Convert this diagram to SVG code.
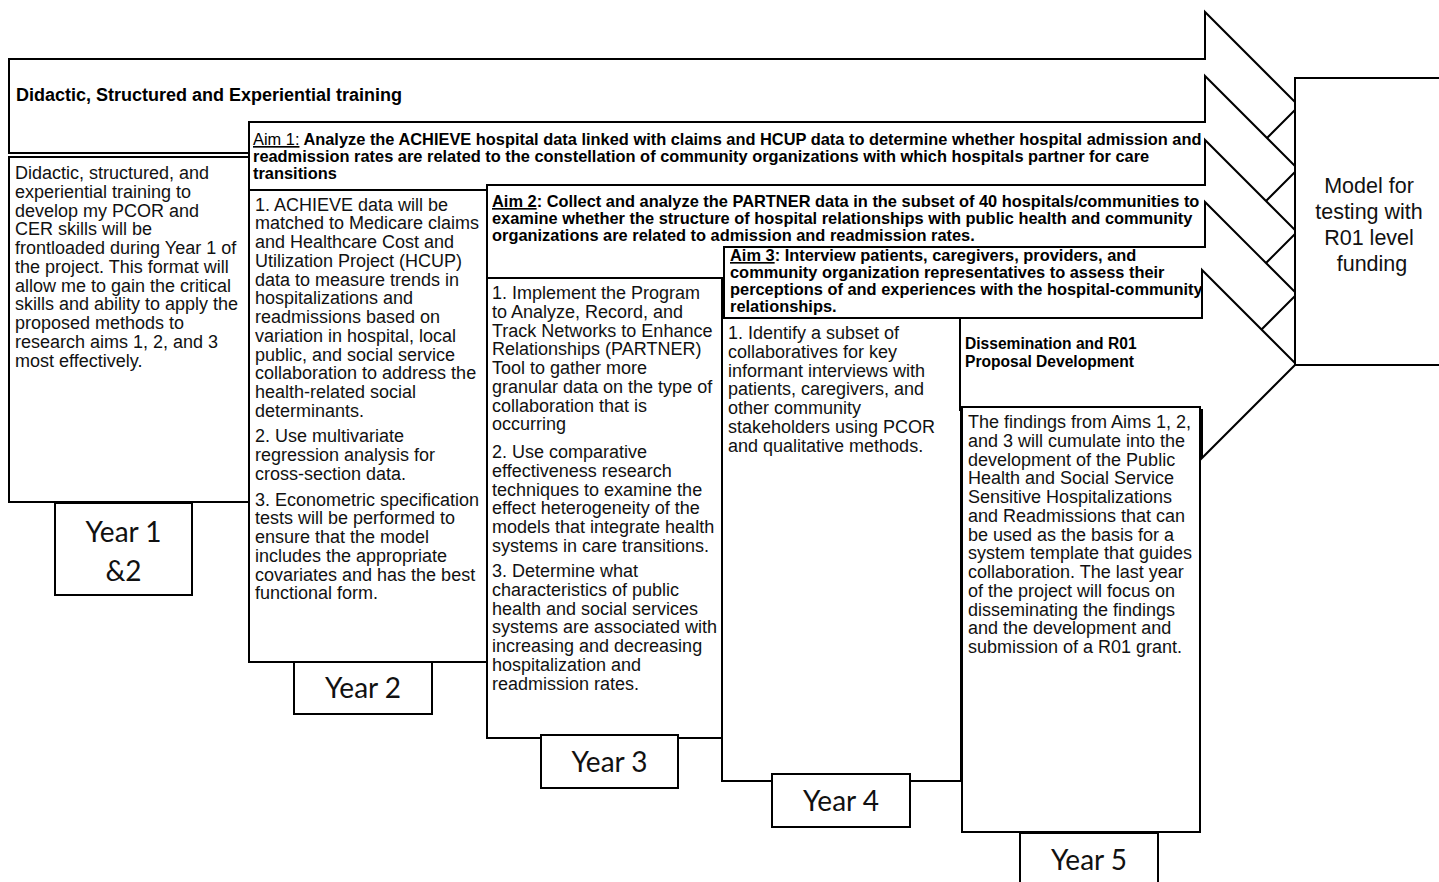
<svg xmlns="http://www.w3.org/2000/svg" width="1439" height="882" viewBox="0 0 1439 882">
<style>
.bg{fill:#fff}
.shape{fill:#fff;stroke:#000;stroke-width:2;stroke-linejoin:miter}
.body{font-family:"Liberation Sans",Arial,sans-serif;font-size:18px;fill:#111}
.hdr{font-family:"Liberation Sans",Arial,sans-serif;font-size:16.4px;font-weight:bold;fill:#000}
.hdr18{font-family:"Liberation Sans",Arial,sans-serif;font-size:18px;font-weight:bold;fill:#000}
.hdr16{font-family:"Liberation Sans",Arial,sans-serif;font-size:15.6px;font-weight:bold;fill:#000}
.year{font-family:Lato,"Open Sans",sans-serif;font-size:28px;fill:#111;text-anchor:middle}
.model{font-family:"Liberation Sans",Arial,sans-serif;font-size:21.5px;fill:#111;text-anchor:middle}
.u{text-decoration:underline}
.n{font-weight:normal}
</style>
<rect class="bg" x="0" y="0" width="1439" height="882"/>

<g id="stage1">
<polygon class="shape" points="9,59 1205,59 1205,12 1299,106 1205,200 1205,153 9,153"/>
<text class="hdr18" x="16" y="101">Didactic, Structured and Experiential training</text>
<rect class="shape" x="9" y="157" width="240" height="345"/>
<text class="body" x="15">
<tspan x="15" y="179">Didactic, structured, and</tspan>
<tspan x="15" y="197.8">experiential training to</tspan>
<tspan x="15" y="216.5">develop my PCOR and</tspan>
<tspan x="15" y="235.3">CER skills will be</tspan>
<tspan x="15" y="254">frontloaded during Year 1 of</tspan>
<tspan x="15" y="272.8">the project. This format will</tspan>
<tspan x="15" y="291.5">allow me to gain the critical</tspan>
<tspan x="15" y="310.3">skills and ability to apply the</tspan>
<tspan x="15" y="329">proposed methods to</tspan>
<tspan x="15" y="347.8">research aims 1, 2, and 3</tspan>
<tspan x="15" y="366.5">most effectively.</tspan>
</text>
<rect class="shape" x="55" y="503" width="137" height="92"/>
<text class="year" x="123.5" y="542">Year 1</text>
<text class="year" x="123.5" y="581">&amp;2</text>
</g>

<g id="stage2">
<polygon class="shape" points="249,122 1205,122 1205,76 1298,169 1205,262 1205,216 249,216"/>
<text class="hdr" x="253">
<tspan x="253" y="145"><tspan class="u n">Aim 1:</tspan> Analyze the ACHIEVE hospital data linked with claims and HCUP data to determine whether hospital admission and</tspan>
<tspan x="253" y="162">readmission rates are related to the constellation of community organizations with which hospitals partner for care</tspan>
<tspan x="253" y="179">transitions</tspan>
</text>
<rect class="shape" x="249" y="190" width="238" height="472"/>
<text class="body">
<tspan x="255" y="210.5">1. ACHIEVE data will be</tspan>
<tspan x="255" y="229.3">matched to Medicare claims</tspan>
<tspan x="255" y="248">and Healthcare Cost and</tspan>
<tspan x="255" y="266.8">Utilization Project (HCUP)</tspan>
<tspan x="255" y="285.5">data to measure trends in</tspan>
<tspan x="255" y="304.3">hospitalizations and</tspan>
<tspan x="255" y="323">readmissions based on</tspan>
<tspan x="255" y="341.8">variation in hospital, local</tspan>
<tspan x="255" y="360.5">public, and social service</tspan>
<tspan x="255" y="379.3">collaboration to address the</tspan>
<tspan x="255" y="398">health-related social</tspan>
<tspan x="255" y="416.8">determinants.</tspan>
<tspan x="255" y="442">2. Use multivariate</tspan>
<tspan x="255" y="460.8">regression analysis for</tspan>
<tspan x="255" y="479.5">cross-section data.</tspan>
<tspan x="255" y="505.5">3. Econometric specification</tspan>
<tspan x="255" y="524.3">tests will be performed to</tspan>
<tspan x="255" y="543">ensure that the model</tspan>
<tspan x="255" y="561.8">includes the appropriate</tspan>
<tspan x="255" y="580.5">covariates and has the best</tspan>
<tspan x="255" y="599.3">functional form.</tspan>
</text>
<rect class="shape" x="294" y="662" width="138" height="52"/>
<text class="year" x="363" y="698">Year 2</text>
</g>

<g id="stage3">
<polygon class="shape" points="487,185 1205,185 1205,140 1297,232 1205,324 1205,279 487,279"/>
<text class="hdr" x="492">
<tspan x="492" y="207"><tspan class="u">Aim 2</tspan>: Collect and analyze the PARTNER data in the subset of 40 hospitals/communities to</tspan>
<tspan x="492" y="224">examine whether the structure of hospital relationships with public health and community</tspan>
<tspan x="492" y="241">organizations are related to admission and readmission rates.</tspan>
</text>
<rect class="shape" x="487" y="278" width="235" height="460"/>
<text class="body">
<tspan x="492" y="299">1. Implement the Program</tspan>
<tspan x="492" y="317.8">to Analyze, Record, and</tspan>
<tspan x="492" y="336.5">Track Networks to Enhance</tspan>
<tspan x="492" y="355.3">Relationships (PARTNER)</tspan>
<tspan x="492" y="374">Tool to gather more</tspan>
<tspan x="492" y="392.8">granular data on the type of</tspan>
<tspan x="492" y="411.5">collaboration that is</tspan>
<tspan x="492" y="430.3">occurring</tspan>
<tspan x="492" y="458">2. Use comparative</tspan>
<tspan x="492" y="476.8">effectiveness research</tspan>
<tspan x="492" y="495.5">techniques to examine the</tspan>
<tspan x="492" y="514.3">effect heterogeneity of the</tspan>
<tspan x="492" y="533">models that integrate health</tspan>
<tspan x="492" y="551.8">systems in care transitions.</tspan>
<tspan x="492" y="577">3. Determine what</tspan>
<tspan x="492" y="595.8">characteristics of public</tspan>
<tspan x="492" y="614.5">health and social services</tspan>
<tspan x="492" y="633.3">systems are associated with</tspan>
<tspan x="492" y="652">increasing and decreasing</tspan>
<tspan x="492" y="670.8">hospitalization and</tspan>
<tspan x="492" y="689.5">readmission rates.</tspan>
</text>
<rect class="shape" x="541" y="735" width="137" height="53"/>
<text class="year" x="609.5" y="772">Year 3</text>
</g>

<g id="stage4">
<polygon class="shape" points="724,247 1205,247 1205,202 1297,294 1205,386 1205,341 724,341"/>
<text class="hdr" x="730">
<tspan x="730" y="261"><tspan class="u">Aim 3</tspan>: Interview patients, caregivers, providers, and</tspan>
<tspan x="730" y="278">community organization representatives to assess their</tspan>
<tspan x="730" y="295">perceptions of and experiences with the hospital-community</tspan>
<tspan x="730" y="312">relationships.</tspan>
</text>
<rect class="shape" x="722" y="318" width="239" height="463"/>
<text class="body">
<tspan x="728" y="339">1. Identify a subset of</tspan>
<tspan x="728" y="357.8">collaboratives for key</tspan>
<tspan x="728" y="376.5">informant interviews with</tspan>
<tspan x="728" y="395.3">patients, caregivers, and</tspan>
<tspan x="728" y="414">other community</tspan>
<tspan x="728" y="432.8">stakeholders using PCOR</tspan>
<tspan x="728" y="451.5">and qualitative methods.</tspan>
</text>
<rect class="shape" x="772" y="774" width="138" height="53"/>
<text class="year" x="841" y="811">Year 4</text>
</g>

<g id="stage5">
<polygon class="shape" points="960,318 1202,318 1202,270 1296,364 1202,458 1202,410 960,410"/>
<text class="hdr16" x="965">
<tspan x="965" y="349">Dissemination and R01</tspan>
<tspan x="965" y="367">Proposal Development</tspan>
</text>
<rect class="shape" x="962" y="407" width="238" height="425"/>
<text class="body">
<tspan x="968" y="428">The findings from Aims 1, 2,</tspan>
<tspan x="968" y="446.8">and 3 will cumulate into the</tspan>
<tspan x="968" y="465.5">development of the Public</tspan>
<tspan x="968" y="484.3">Health and Social Service</tspan>
<tspan x="968" y="503">Sensitive Hospitalizations</tspan>
<tspan x="968" y="521.8">and Readmissions that can</tspan>
<tspan x="968" y="540.5">be used as the basis for a</tspan>
<tspan x="968" y="559.3">system template that guides</tspan>
<tspan x="968" y="578">collaboration. The last year</tspan>
<tspan x="968" y="596.8">of the project will focus on</tspan>
<tspan x="968" y="615.5">disseminating the findings</tspan>
<tspan x="968" y="634.3">and the development and</tspan>
<tspan x="968" y="653">submission of a R01 grant.</tspan>
</text>
<rect class="shape" x="1020" y="833" width="138" height="62"/>
<text class="year" x="1089" y="870">Year 5</text>
</g>

<g id="model">
<rect class="shape" x="1295" y="78" width="160" height="287"/>
<text class="model">
<tspan x="1372" y="193">Model for</tspan>
<tspan x="1372" y="219">testing with</tspan>
<tspan x="1372" y="245">R01 level</tspan>
<tspan x="1372" y="271">funding</tspan>
</text>
</g>
</svg>
